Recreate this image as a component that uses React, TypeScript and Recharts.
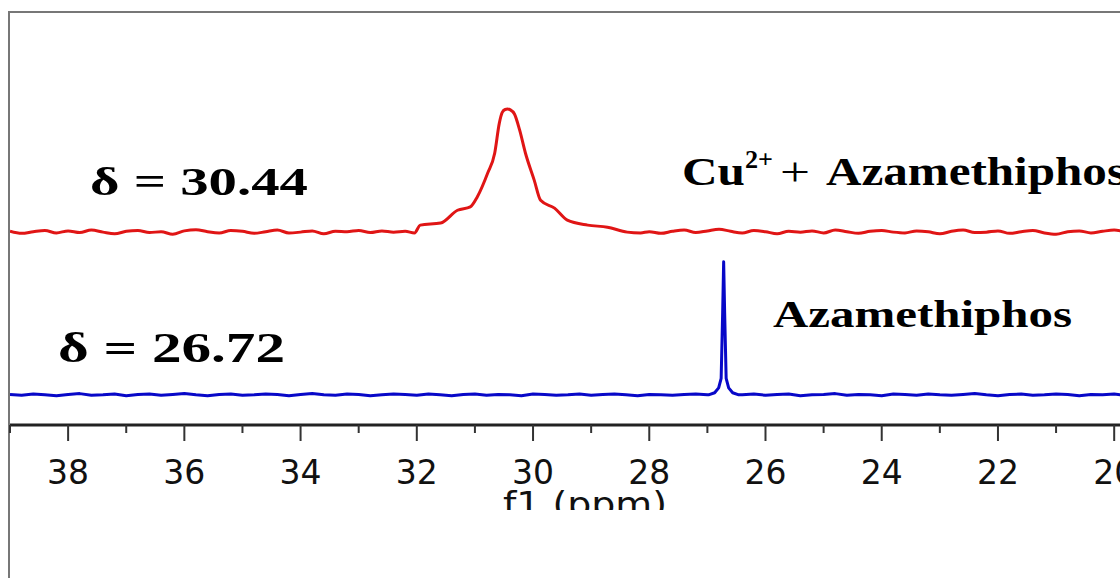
import React from 'react';
import { LineChart, Line, XAxis, YAxis } from 'recharts';

// 31P NMR traces; shift in ppm, intensity in arbitrary units
const SHIFT_STEP = 0.2;
const AXIS_TICKS = [39, 38, 37, 36, 35, 34, 33, 32, 31, 30, 29, 28, 27, 26, 25, 24, 23, 22, 21, 20];
const LABELLED_TICKS = [38, 36, 34, 32, 30, 28, 26, 24, 22, 20];

// vertical stacking of the two spectra
const CU_OFFSET = 46.7;
const AZA_OFFSET = 7.3;

// Cu2+ + Azamethiphos: baseline 39.0 -> 32.2 ppm
const cuNoiseHigh = [
  0.2, -0.3, 0.1, 0.4, -0.2, 0.3, -0.1, 0.5, 0.0, -0.4,
  0.2, 0.4, -0.1, 0.1, -0.5, 0.3, 0.6, 0.1, -0.2, 0.4,
  0.2, -0.3, 0.1, 0.5, -0.2, 0.0, 0.3, -0.4, 0.2, 0.1,
  0.4, -0.1, 0.3, 0.0, 0.2,
];
const cuPeakShift = [
  32.04, 31.94, 31.59, 31.3, 31.08, 30.96, 30.78, 30.66, 30.58, 30.53, 30.48, 30.44,
  30.39, 30.32, 30.23, 30.13, 29.98, 29.87, 29.63, 29.41, 29.06, 28.72, 28.38, 28.15,
];
const cuPeakIntensity = [
  -0.2, 1.7, 2.2, 5.3, 6.1, 8.5, 14.3, 19.1, 26.4, 29.0, 29.7, 29.8,
  29.6, 28.6, 24.7, 19.1, 12.6, 7.7, 5.8, 2.9, 1.7, 1.2, 0.0, -0.2,
];
// baseline 28.0 -> 19.8 ppm
const cuNoiseLow = [
  0.1, -0.3, 0.2, 0.5, -0.1, 0.3, 0.7, 0.2, -0.2, 0.4,
  0.1, -0.4, 0.2, 0.0, 0.3, -0.2, 0.5, 0.1, -0.3, 0.2,
  0.4, 0.0, -0.2, 0.3, 0.1, -0.4, 0.2, 0.5, -0.1, 0.0,
  0.3, -0.3, 0.1, 0.4, -0.2, -0.5, 0.1, 0.3, -0.2, 0.2,
  0.5, 0.0,
];

// Azamethiphos alone: baseline 39.0 -> 27.0 ppm
const azaNoiseHigh = [
  0.1, -0.1, 0.2, 0.0, -0.2, 0.1, 0.3, -0.1, 0.0, 0.2,
  -0.2, 0.1, 0.2, -0.1, 0.1, 0.3, 0.0, -0.2, 0.1, 0.2,
  -0.1, 0.0, 0.2, 0.1, -0.2, 0.1, 0.3, 0.0, -0.1, 0.2,
  0.1, -0.2, 0.0, 0.2, 0.1, -0.1, 0.2, 0.0, -0.2, 0.1,
  0.2, -0.1, 0.1, 0.0, -0.2, 0.2, 0.1, -0.1, 0.0, 0.2,
  -0.1, 0.1, 0.2, 0.0, -0.2, 0.1, 0.0, -0.1, 0.1, 0.2,
  0.0,
];
const azaPeakShift = [26.98, 26.875, 26.806, 26.763, 26.737, 26.72, 26.703, 26.677, 26.634, 26.565, 26.46];
const azaPeakIntensity = [0.0, 0.5, 1.7, 4.0, 20.0, 32.2, 20.0, 4.0, 1.7, 0.5, 0.0];
// baseline 26.4 -> 19.8 ppm
const azaNoiseLow = [
  0.0, 0.2, -0.1, 0.1, 0.2, -0.2, 0.0, 0.1, 0.3, -0.1,
  0.1, 0.0, -0.2, 0.2, 0.1, -0.1, 0.2, 0.0, -0.1, 0.1,
  0.3, 0.0, -0.2, 0.1, 0.2, -0.1, 0.0, 0.2, 0.1, -0.2,
  0.1, 0.0, 0.2, -0.1,
];

type Pt = { ppm: number; y: number };

const sampled = (start: number, values: number[]): Pt[] =>
  values.map((v, i) => ({ ppm: +(start - i * SHIFT_STEP).toFixed(2), y: v }));

const paired = (shifts: number[], values: number[]): Pt[] =>
  shifts.map((s, i) => ({ ppm: s, y: values[i] }));

const stack = (parts: Pt[][], offset: number): Pt[] =>
  parts.flat().map((p) => ({ ppm: p.ppm, y: p.y + offset }));

const cuTrace = stack(
  [sampled(39.0, cuNoiseHigh), paired(cuPeakShift, cuPeakIntensity), sampled(28.0, cuNoiseLow)],
  CU_OFFSET,
);
const azaTrace = stack(
  [sampled(39.0, azaNoiseHigh), paired(azaPeakShift, azaPeakIntensity), sampled(26.4, azaNoiseLow)],
  AZA_OFFSET,
);

const ShiftTick = (props: any) => {
  const { x, y, payload } = props;
  const major = LABELLED_TICKS.includes(payload.value);
  return (
    <g>
      <line x1={x} x2={x} y1={y} y2={y + (major ? 16 : 8)} stroke="#333" strokeWidth={2} />
      {major && (
        <text x={x} y={y + 59} textAnchor="middle" fontFamily="DejaVu Sans" fontSize={33} fill="#111">
          {payload.value}
        </text>
      )}
    </g>
  );
};

const serif = "'Liberation Serif', 'Times New Roman', serif";

export default function App() {
  return (
    <div style={{ position: 'absolute', left: 0, top: 0, width: 1120, height: 578, overflow: 'hidden', background: '#fff' }}>
      <div
        style={{
          position: 'absolute', left: 8, top: 11, width: 1200, height: 700,
          borderLeft: '2px solid #777', borderTop: '2px solid #777',
        }}
      />
      <div style={{ position: 'absolute', left: 0, top: 0 }}>
        <LineChart width={1120} height={578} margin={{ top: 12, right: 0, bottom: 0, left: 10 }}>
          <XAxis
            type="number"
            dataKey="ppm"
            domain={[19.9, 39]}
            reversed
            allowDataOverflow
            ticks={AXIS_TICKS}
            interval={0}
            tick={<ShiftTick />}
            tickLine={false}
            tickSize={0}
            tickMargin={0}
            axisLine={{ stroke: '#222', strokeWidth: 3 }}
            height={153}
          />
          <YAxis type="number" domain={[0, 100]} hide allowDataOverflow />
          <Line data={cuTrace} dataKey="y" type="monotone" stroke="#e01515" strokeWidth={3}
            strokeLinejoin="round" dot={false} isAnimationActive={false} />
          <Line data={azaTrace} dataKey="y" type="linear" stroke="#0808c8" strokeWidth={3}
            strokeLinejoin="round" dot={false} isAnimationActive={false} />
        </LineChart>
      </div>
      <svg width={1120} height={578} style={{ position: 'absolute', left: 0, top: 0, pointerEvents: 'none' }}>
        <defs>
          <clipPath id="axis-title-clip">
            <rect x={0} y={0} width={1120} height={510} />
          </clipPath>
        </defs>
        <g fontFamily={serif} fontWeight={700} fill="#000">
          <text x={90} y={195} fontSize={41} textLength={218} lengthAdjust="spacingAndGlyphs">δ = 30.44</text>
          <text x={58} y={362} fontSize={42} textLength={227} lengthAdjust="spacingAndGlyphs">δ = 26.72</text>
          <text x={682} y={185} fontSize={40} textLength={63} lengthAdjust="spacingAndGlyphs">Cu</text>
          <text x={745} y={168} fontSize={25} textLength={28} lengthAdjust="spacingAndGlyphs">2+</text>
          <text x={780} y={185} fontSize={40} fontWeight={400} textLength={30} lengthAdjust="spacingAndGlyphs">+</text>
          <text x={826} y={185} fontSize={40} textLength={300} lengthAdjust="spacingAndGlyphs">Azamethiphos</text>
          <text x={773} y={327} fontSize={37} textLength={299} lengthAdjust="spacingAndGlyphs">Azamethiphos</text>
        </g>
        <text x={503} y={516} fontFamily="DejaVu Sans" fontSize={33} fill="#111" textLength={164}
          lengthAdjust="spacingAndGlyphs" clipPath="url(#axis-title-clip)">
          f1 (ppm)
        </text>
      </svg>
    </div>
  );
}
